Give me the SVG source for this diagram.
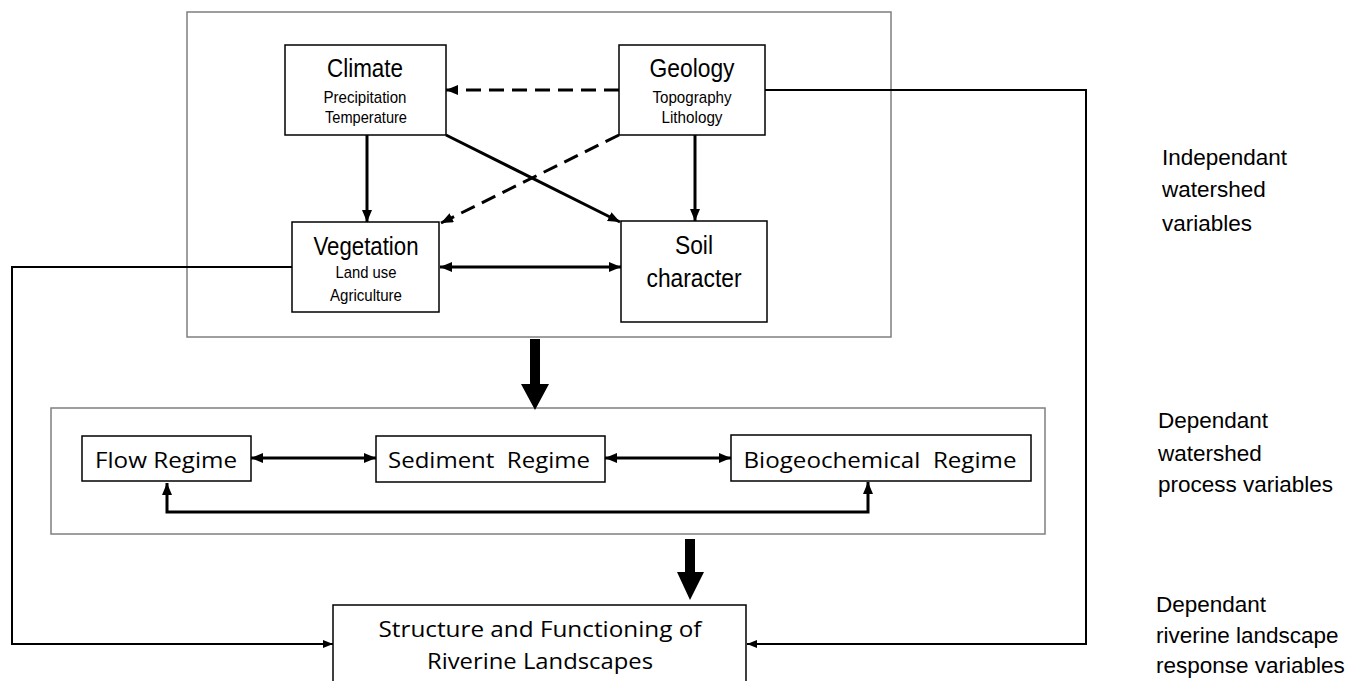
<svg xmlns="http://www.w3.org/2000/svg" width="1349" height="681" viewBox="0 0 1349 681">
  <style>
    .box { fill: #ffffff; stroke: #000000; stroke-width: 1.5; }
    .frame { fill: none; stroke: #7f7f7f; stroke-width: 1.5; }
    .title { font-family: "Liberation Sans", Arial, sans-serif; font-size: 26px; fill: #000; text-anchor: middle; }
    .sub { font-family: "Liberation Sans", Arial, sans-serif; font-size: 17px; fill: #000; text-anchor: middle; }
    .reg { font-family: "Open Sans", "Noto Sans", sans-serif; font-size: 22px; fill: #000; text-anchor: middle; }
    .side { font-family: "Liberation Sans", Arial, sans-serif; font-size: 22.5px; fill: #000; }
    .link { fill: none; stroke: #000; stroke-width: 3; }
    .dash { fill: none; stroke: #000; stroke-width: 3; stroke-dasharray: 15 8; }
    .thin { fill: none; stroke: #000; stroke-width: 2; }
  </style>
  <defs>
    <marker id="head" markerUnits="userSpaceOnUse" viewBox="0 0 12 10" refX="12" refY="5" markerWidth="12" markerHeight="10" orient="auto-start-reverse">
      <path d="M0,0 L12,5 L0,10 Z" fill="#000"/>
    </marker>
    <marker id="headSmall" markerUnits="userSpaceOnUse" viewBox="0 0 10 8" refX="10" refY="4" markerWidth="10" markerHeight="8" orient="auto-start-reverse">
      <path d="M0,0 L10,4 L0,8 Z" fill="#000"/>
    </marker>
  </defs>

  <rect width="1349" height="681" fill="#ffffff"/>

  <!-- container frames -->
  <g id="watershed-frame">
    <rect class="frame" x="187" y="12" width="704" height="325"/>
  </g>
  <g id="process-frame">
    <rect class="frame" x="51" y="408" width="994" height="126"/>
  </g>

  <!-- connectors -->
  <g id="connectors">
    <!-- geology to climate (dashed) -->
    <line class="dash" x1="619" y1="90" x2="446" y2="90" marker-end="url(#head)"/>
    <!-- geology to vegetation (dashed) -->
    <line class="dash" x1="619" y1="135" x2="441" y2="223" marker-end="url(#head)"/>
    <!-- climate to vegetation -->
    <line class="link" x1="367" y1="135" x2="367" y2="222" marker-end="url(#head)"/>
    <!-- climate to soil -->
    <line class="link" x1="446" y1="135" x2="620" y2="222" marker-end="url(#head)"/>
    <!-- geology to soil -->
    <line class="link" x1="695" y1="135" x2="695" y2="221" marker-end="url(#head)"/>
    <!-- vegetation <-> soil -->
    <line class="link" x1="440" y1="267" x2="621" y2="267" marker-start="url(#head)" marker-end="url(#head)"/>

    <!-- watershed to processes -->
    <path d="M530,339 H540 V384 H549 L535,410 L521,384 H530 Z" fill="#000"/>

    <!-- process interactions -->
    <line class="link" x1="251" y1="458" x2="376" y2="458" marker-start="url(#head)" marker-end="url(#head)"/>
    <line class="link" x1="605" y1="458" x2="731" y2="458" marker-start="url(#head)" marker-end="url(#head)"/>
    <path class="link" d="M167,483 V512 H868 V482" marker-start="url(#head)" marker-end="url(#head)"/>

    <!-- processes to landscape -->
    <path d="M685,539 H695 V572 H704 L690,600 L677,572 H685 Z" fill="#000"/>

    <!-- direct feedback paths -->
    <path class="thin" d="M765,90 H1086 V644 H747" marker-end="url(#headSmall)"/>
    <path class="thin" d="M292,267 H12 V644 H333" marker-end="url(#headSmall)"/>
  </g>

  <!-- independent watershed variables -->
  <g id="climate">
    <rect class="box" x="285" y="45" width="161" height="90"/>
    <text class="title" x="365" y="77" textLength="76" lengthAdjust="spacingAndGlyphs">Climate</text>
    <text class="sub" x="365" y="103" textLength="83" lengthAdjust="spacingAndGlyphs">Precipitation</text>
    <text class="sub" x="366" y="123" textLength="82" lengthAdjust="spacingAndGlyphs">Temperature</text>
  </g>
  <g id="geology">
    <rect class="box" x="619" y="45" width="146" height="90"/>
    <text class="title" x="692" y="77" textLength="85" lengthAdjust="spacingAndGlyphs">Geology</text>
    <text class="sub" x="692" y="103" textLength="79" lengthAdjust="spacingAndGlyphs">Topography</text>
    <text class="sub" x="692" y="123" textLength="61" lengthAdjust="spacingAndGlyphs">Lithology</text>
  </g>
  <g id="vegetation">
    <rect class="box" x="292" y="222" width="147" height="90"/>
    <text class="title" x="366" y="255" textLength="105" lengthAdjust="spacingAndGlyphs">Vegetation</text>
    <text class="sub" x="366" y="278" textLength="61" lengthAdjust="spacingAndGlyphs">Land use</text>
    <text class="sub" x="366" y="301" textLength="72" lengthAdjust="spacingAndGlyphs">Agriculture</text>
  </g>
  <g id="soil">
    <rect class="box" x="621" y="221" width="146" height="101"/>
    <text class="title" x="694" y="254" textLength="38" lengthAdjust="spacingAndGlyphs">Soil</text>
    <text class="title" x="694" y="287" textLength="95" lengthAdjust="spacingAndGlyphs">character</text>
  </g>

  <!-- dependent watershed processes -->
  <g id="flow-regime">
    <rect class="box" x="82" y="436" width="169" height="45"/>
    <text class="reg" x="166" y="468" textLength="142" lengthAdjust="spacingAndGlyphs">Flow Regime</text>
  </g>
  <g id="sediment-regime">
    <rect class="box" x="376" y="436" width="229" height="46"/>
    <text class="reg" x="489" y="468" textLength="202" lengthAdjust="spacingAndGlyphs" xml:space="preserve">Sediment  Regime</text>
  </g>
  <g id="biogeochemical-regime">
    <rect class="box" x="731" y="435" width="300" height="46"/>
    <text class="reg" x="880" y="468" textLength="273" lengthAdjust="spacingAndGlyphs" xml:space="preserve">Biogeochemical  Regime</text>
  </g>

  <!-- riverine landscape response -->
  <g id="riverine-landscapes">
    <rect class="box" x="333" y="605" width="413" height="90"/>
    <text class="reg" x="540" y="637" font-size="24" textLength="323" lengthAdjust="spacingAndGlyphs">Structure and Functioning of</text>
    <text class="reg" x="540" y="669" font-size="24" textLength="226" lengthAdjust="spacingAndGlyphs">Riverine Landscapes</text>
  </g>

  <!-- level labels -->
  <g id="label-independent">
    <text class="side" x="1162" y="165">Independant</text>
    <text class="side" x="1162" y="197">watershed</text>
    <text class="side" x="1162" y="231">variables</text>
  </g>
  <g id="label-process">
    <text class="side" x="1158" y="428">Dependant</text>
    <text class="side" x="1158" y="461">watershed</text>
    <text class="side" x="1158" y="492">process variables</text>
  </g>
  <g id="label-response">
    <text class="side" x="1156" y="612">Dependant</text>
    <text class="side" x="1156" y="643">riverine landscape</text>
    <text class="side" x="1156" y="673">response variables</text>
  </g>
</svg>
